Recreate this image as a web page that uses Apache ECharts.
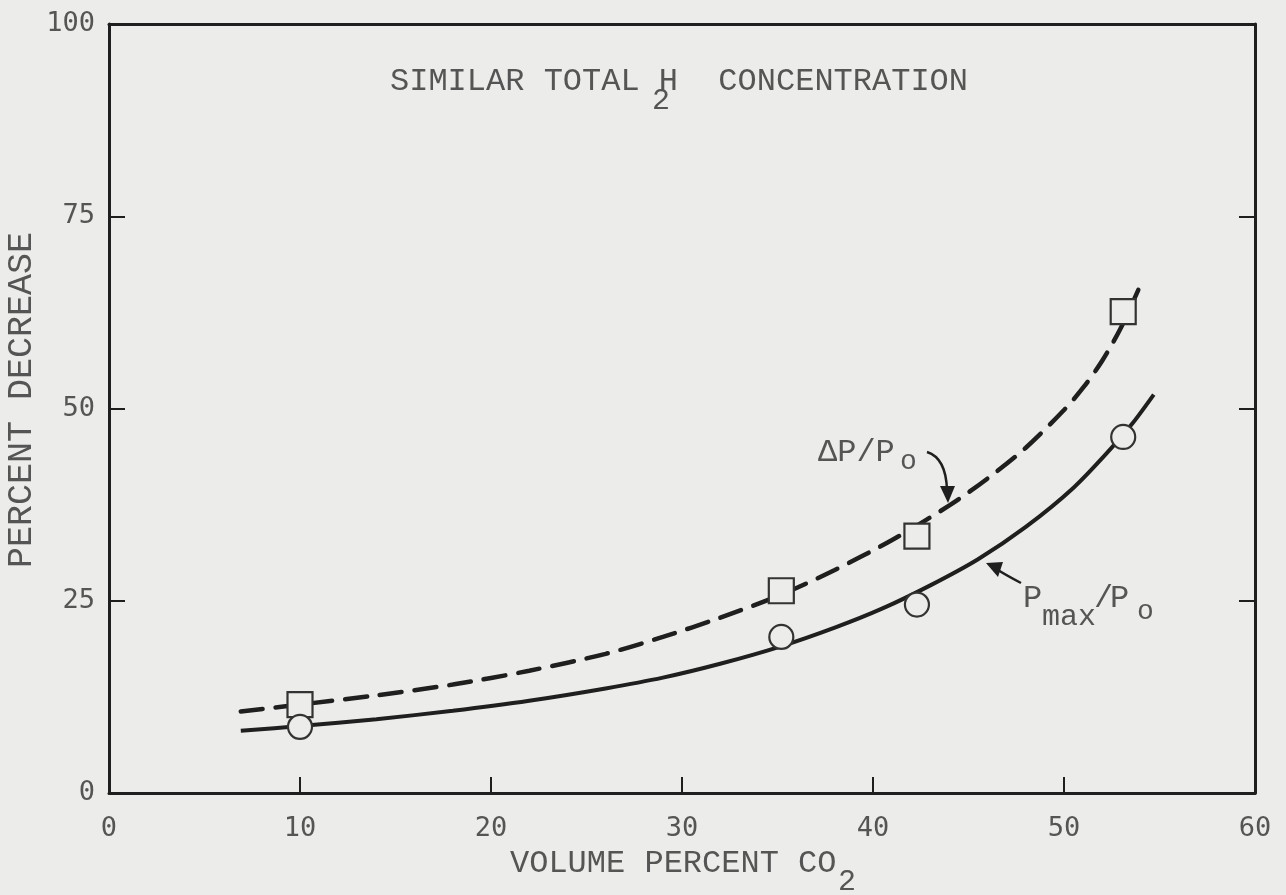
<!DOCTYPE html>
<html>
<head>
<meta charset="utf-8">
<script src="https://cdn.jsdelivr.net/npm/echarts@6/dist/echarts.min.js"></script>
<style>
  html, body { margin: 0; padding: 0; background: #ececea; }
  #chart { width: 1286px; height: 895px; }
</style>
</head>
<body>
<div id="chart"></div>
<script>
// Measured points: volume percent CO2 vs percent decrease
const co2Measured = [10.0, 35.2, 42.3, 53.1];
const deltaPMeasured = [11.5, 26.3, 33.4, 62.6];   // ΔP/Po (squares)
const pmaxMeasured = [8.6, 20.3, 24.5, 46.3];      // Pmax/Po (circles)

// Fitted curves (x = volume percent CO2, y = percent decrease)
const deltaPCurveX = [6.9, 10, 14, 18, 22, 26, 29, 32, 35.2, 38, 41, 44, 46, 48, 50, 51, 52, 53, 54.1];
const deltaPCurveY = [10.6, 11.5, 12.7, 14.1, 15.9, 18.1, 20.3, 22.8, 25.8, 29.0, 32.9, 37.4, 40.9, 44.9, 49.8, 52.7, 56.2, 60.6, 66.6];
const pmaxCurveX = [6.9, 10, 14, 18, 22, 26, 29, 32, 35.1, 38, 40.5, 43, 45.5, 48, 50.5, 52.5, 53.6, 54.7];
const pmaxCurveY = [8.1, 8.7, 9.6, 10.7, 12.0, 13.6, 15.0, 16.8, 19.0, 21.5, 24.0, 27.0, 30.4, 34.6, 39.7, 44.9, 48.1, 51.8];

const xTicks = [0, 10, 20, 30, 40, 50, 60];
const yTicks = [0, 25, 50, 75, 100];

const pairs = (xs, ys) => xs.map((x, i) => [x, ys[i]]);

const INK = '#1f1f1f';
const TEXT = '#555555';
const BG = '#ececea';
const CAPTION_FONT = '"Liberation Mono", "Courier New", monospace';
const NUM_FONT = '"DejaVu Sans Mono", monospace';

function caption(text, x, y, size, extra) {
  return Object.assign({
    type: 'text', x: x, y: y, silent: true,
    style: { text: text, fill: TEXT, font: size + 'px ' + CAPTION_FONT, verticalAlign: 'middle' }
  }, extra || {});
}

const chart = echarts.init(document.getElementById('chart'), null, { renderer: 'canvas' });

const frameLine = { show: true, onZero: false, lineStyle: { color: INK, width: 3 } };
const innerTick = { show: true, inside: true, length: 16, lineStyle: { color: INK, width: 2 } };

chart.setOption({
  backgroundColor: BG,
  animation: false,
  grid: { left: 109, right: 31, top: 24, bottom: 102 },
  xAxis: [
    {
      type: 'value', min: 0, max: 60, interval: 10, position: 'bottom',
      axisLine: frameLine, axisTick: innerTick, splitLine: { show: false },
      axisLabel: {
        margin: 22, color: TEXT, fontFamily: NUM_FONT, fontSize: 27,
        formatter: v => xTicks.includes(v) ? String(v) : ''
      }
    },
    {
      type: 'value', min: 0, max: 60, interval: 10, position: 'top',
      axisLine: frameLine, axisTick: { show: false }, splitLine: { show: false },
      axisLabel: { show: false }
    }
  ],
  yAxis: [
    {
      type: 'value', min: 0, max: 100, interval: 25, position: 'left',
      axisLine: frameLine, axisTick: innerTick, splitLine: { show: false },
      axisLabel: {
        margin: 14, color: TEXT, fontFamily: NUM_FONT, fontSize: 27,
        formatter: v => yTicks.includes(v) ? String(v) : ''
      }
    },
    {
      type: 'value', min: 0, max: 100, interval: 25, position: 'right',
      axisLine: frameLine, axisTick: innerTick, splitLine: { show: false },
      axisLabel: { show: false }
    }
  ],
  series: [
    {
      name: 'ΔP/Po curve', type: 'line', smooth: 0.3, symbol: 'none',
      data: pairs(deltaPCurveX, deltaPCurveY),
      lineStyle: { color: INK, width: 4.5, type: [22, 13], cap: 'round' },
      z: 2
    },
    {
      name: 'Pmax/Po curve', type: 'line', smooth: 0.3, symbol: 'none',
      data: pairs(pmaxCurveX, pmaxCurveY),
      lineStyle: { color: INK, width: 4 },
      z: 2
    },
    {
      name: 'ΔP/Po', type: 'scatter', symbol: 'rect', symbolSize: 25,
      data: pairs(co2Measured, deltaPMeasured),
      itemStyle: { color: BG, borderColor: '#333', borderWidth: 2.2, opacity: 1 },
      z: 3
    },
    {
      name: 'Pmax/Po', type: 'scatter', symbol: 'circle', symbolSize: 24,
      data: pairs(co2Measured, pmaxMeasured),
      itemStyle: { color: BG, borderColor: '#333', borderWidth: 2.2, opacity: 1 },
      z: 3
    }
  ],
  graphic: [
    // chart heading
    caption('SIMILAR TOTAL H', 390, 82, 32),
    caption('2', 652, 101, 30),
    caption('CONCENTRATION', 968, 82, 32, { style: { text: 'CONCENTRATION', fill: TEXT, font: '32px ' + CAPTION_FONT, verticalAlign: 'middle', align: 'right' } }),
    // axis titles
    caption('VOLUME PERCENT CO', 510, 864, 32),
    caption('2', 838, 882, 30),
    caption('PERCENT DECREASE', 22, 400, 35, {
      rotation: Math.PI / 2,
      style: { text: 'PERCENT DECREASE', fill: TEXT, font: '35px ' + CAPTION_FONT, verticalAlign: 'middle', align: 'center' }
    }),
    // ΔP/Po label and its arrow
    caption('ΔP/P', 818, 453, 32),
    caption('o', 900, 462, 28),
    {
      type: 'bezierCurve', silent: true,
      shape: { x1: 927, y1: 452, cpx1: 946, cpy1: 458, x2: 947, y2: 490 },
      style: { stroke: INK, lineWidth: 2.5, fill: null }
    },
    {
      type: 'polygon', silent: true,
      shape: { points: [[940, 486], [955, 486], [948, 503]] },
      style: { fill: INK }
    },
    // Pmax/Po label and its arrow
    caption('P', 1023, 599, 32),
    caption('max', 1042, 617, 30),
    caption('/', 1094, 599, 32),
    caption('P', 1110, 599, 32),
    caption('o', 1137, 612, 28),
    {
      type: 'bezierCurve', silent: true,
      shape: { x1: 1021, y1: 583, cpx1: 1004, cpy1: 574, x2: 998, y2: 570 },
      style: { stroke: INK, lineWidth: 2.5, fill: null }
    },
    {
      type: 'polygon', silent: true,
      shape: { points: [[1003, 562], [998, 577], [986, 563]] },
      style: { fill: INK }
    }
  ]
});
</script>
</body>
</html>
